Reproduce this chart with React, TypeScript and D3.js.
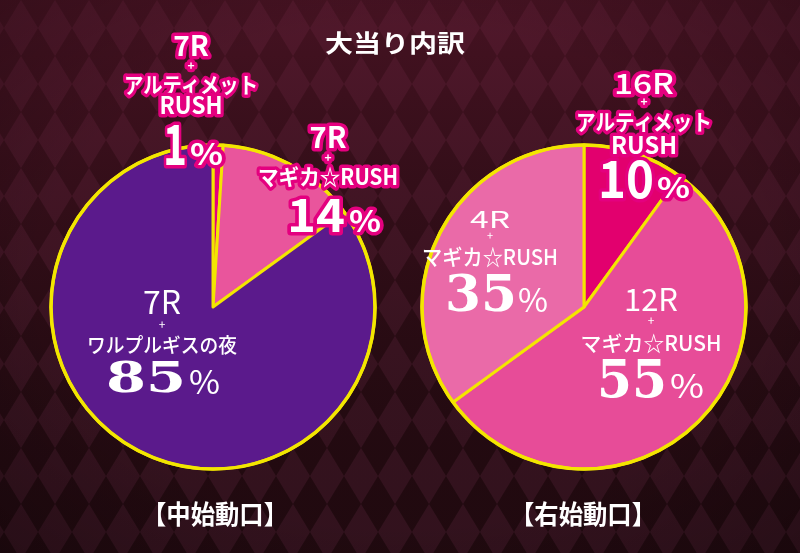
import React from "react";
import * as d3 from "d3";

// ---------- data ----------
const chartTitle = "大当り内訳";
const leftTitle = "【中始動口】";
const rightTitle = "【右始動口】";

const leftRounds = ["7R", "7R", "7R"];
const leftBonus = [["アルティメット", "RUSH"], ["マギカ☆RUSH"], ["ワルプルギスの夜"]];
const leftValues = [1, 14, 85];

const rightRounds = ["16R", "12R", "4R"];
const rightBonus = [["アルティメット", "RUSH"], ["マギカ☆RUSH"], ["マギカ☆RUSH"]];
const rightValues = [10, 55, 35];

// ---------- styles / layout ----------
const W = 800;
const H = 553;
const R = 162;
const leftCenter = { x: 213, y: 307 };
const rightCenter = { x: 584, y: 307 };
const leftColors = ["#e4007f", "#e9559c", "#5b1a8c"];
const rightColors = ["#e2006e", "#e74c98", "#ea6aa8"];
const YELLOW = "#f3e600";
const MAGENTA = "#e4007f";
const SANS = "'Noto Sans CJK JP', 'Noto Sans', sans-serif";
const SERIF = "'DejaVu Serif', 'Liberation Serif', serif";

type LineSpec = { y: number; size: number; len?: number; weight?: number };
type LabelLayout = {
  cx: number;
  outline: boolean;
  serif: boolean;
  round: LineSpec;
  plus: LineSpec;
  bonus: LineSpec[];
  digits: { x: number; y: number; size: number; len: number };
  pct: { x: number; y: number; size: number; len: number };
};

const leftLayout: LabelLayout[] = [
  {
    cx: 191, outline: true, serif: false,
    round: { y: 56, size: 28, weight: 700 },
    plus: { y: 70, size: 12, weight: 700 },
    bonus: [{ y: 93, size: 22, len: 134, weight: 700 }, { y: 114, size: 24, len: 63, weight: 700 }],
    digits: { x: 163, y: 165, size: 56, len: 24 },
    pct: { x: 190, y: 165, size: 30, len: 33 },
  },
  {
    cx: 328, outline: true, serif: false,
    round: { y: 148, size: 29, weight: 700 },
    plus: { y: 162, size: 12, weight: 700 },
    bonus: [{ y: 185, size: 22, len: 140, weight: 700 }],
    digits: { x: 287, y: 232, size: 46, len: 58 },
    pct: { x: 349, y: 232, size: 30, len: 32 },
  },
  {
    cx: 162, outline: false, serif: true,
    round: { y: 314, size: 32, len: 38, weight: 400 },
    plus: { y: 329, size: 12, weight: 400 },
    bonus: [{ y: 353, size: 20, len: 150, weight: 500 }],
    digits: { x: 106, y: 392, size: 42, len: 80 },
    pct: { x: 189, y: 394, size: 32, len: 31 },
  },
];

const rightLayout: LabelLayout[] = [
  {
    cx: 644, outline: true, serif: false,
    round: { y: 94, size: 28, len: 60, weight: 500 },
    plus: { y: 106, size: 12, weight: 700 },
    bonus: [{ y: 130, size: 22, len: 136, weight: 700 }, { y: 154, size: 24, len: 66, weight: 700 }],
    digits: { x: 598, y: 198, size: 52, len: 56 },
    pct: { x: 657, y: 198, size: 28, len: 33 },
  },
  {
    cx: 651, outline: false, serif: true,
    round: { y: 311, size: 31, len: 54, weight: 400 },
    plus: { y: 325, size: 12, weight: 400 },
    bonus: [{ y: 351, size: 21, len: 141, weight: 500 }],
    digits: { x: 597, y: 397, size: 52, len: 70 },
    pct: { x: 670, y: 398, size: 32, len: 34 },
  },
  {
    cx: 490, outline: false, serif: true,
    round: { y: 228, size: 23, len: 40, weight: 400 },
    plus: { y: 240, size: 11, weight: 400 },
    bonus: [{ y: 265, size: 22, len: 136, weight: 500 }],
    digits: { x: 445, y: 311, size: 50, len: 72 },
    pct: { x: 518, y: 312, size: 32, len: 30 },
  },
];

function Label({ layout, round, bonus, value }: { layout: LabelLayout; round: string; bonus: string[]; value: number }) {
  const outlineProps = layout.outline
    ? { stroke: MAGENTA, strokeWidth: 7, strokeLinejoin: "round" as const, paintOrder: "stroke" }
    : {};
  const line = (spec: LineSpec, text: string, key: string) => (
    <text
      key={key}
      x={layout.cx}
      y={spec.y}
      textAnchor="middle"
      fontFamily={SANS}
      fontSize={spec.size}
      fontWeight={spec.weight ?? 700}
      fill="#fff"
      {...(spec.len ? { textLength: spec.len, lengthAdjust: "spacingAndGlyphs" } : {})}
      {...outlineProps}
    >
      {text}
    </text>
  );
  return (
    <g>
      {line(layout.round, round, "r")}
      {line(layout.plus, "+", "p")}
      {bonus.map((b, i) => line(layout.bonus[i], b, "b" + i))}
      <text
        x={layout.digits.x}
        y={layout.digits.y}
        fontFamily={layout.serif ? SERIF : SANS}
        fontSize={layout.digits.size}
        fontWeight={700}
        fill="#fff"
        textLength={layout.digits.len}
        lengthAdjust="spacingAndGlyphs"
        {...outlineProps}
      >
        {String(value)}
      </text>
      <text
        x={layout.pct.x}
        y={layout.pct.y}
        fontFamily={SANS}
        fontSize={layout.pct.size}
        fontWeight={layout.outline ? 700 : 400}
        fill="#fff"
        textLength={layout.pct.len}
        lengthAdjust="spacingAndGlyphs"
        {...outlineProps}
      >
        %
      </text>
    </g>
  );
}

function Pie({ center, values, colors }: { center: { x: number; y: number }; values: number[]; colors: string[] }) {
  const pie = d3.pie<number>().sort(null).value((d) => d)(values);
  const arc = d3.arc<d3.PieArcDatum<number>>().innerRadius(0).outerRadius(R);
  return (
    <g transform={`translate(${center.x},${center.y})`}>
      {pie.map((p, i) => (
        <path key={i} d={arc(p) || ""} fill={colors[i]} stroke={YELLOW} strokeWidth={3} strokeLinejoin="round" />
      ))}
      <circle r={R} fill="none" stroke={YELLOW} strokeWidth={3.5} />
    </g>
  );
}

export default function App() {
  return (
    <svg width={W} height={H} viewBox={`0 0 ${W} ${H}`} style={{ position: "fixed", left: 0, top: 0, display: "block" }}>
      <defs>
        <pattern id="harl" width={34} height={56} patternUnits="userSpaceOnUse" x={4} y={0}>
          <rect width={34} height={56} fill="#220a10" />
          <polygon points="17,0 34,28 17,56 0,28" fill="#35131f" />
        </pattern>
        <linearGradient id="tint" x1="0" y1="0" x2="0" y2="1">
          <stop offset="0" stopColor="#80203f" stopOpacity={0.38} />
          <stop offset="0.5" stopColor="#6a1a34" stopOpacity={0.15} />
          <stop offset="1" stopColor="#000" stopOpacity={0.05} />
        </linearGradient>
        <radialGradient id="vig" cx="0.5" cy="0.5" r="0.75">
          <stop offset="0.6" stopColor="#000" stopOpacity={0} />
          <stop offset="1" stopColor="#000" stopOpacity={0.25} />
        </radialGradient>
      </defs>
      <rect width={W} height={H} fill="url(#harl)" />
      <rect width={W} height={H} fill="url(#tint)" />
      <rect width={W} height={H} fill="url(#vig)" />

      <text x={395} y={52} textAnchor="middle" fontFamily={SANS} fontSize={24} fontWeight={700} fill="#fff" textLength={140} lengthAdjust="spacingAndGlyphs">
        {chartTitle}
      </text>

      <Pie center={leftCenter} values={leftValues} colors={leftColors} />
      <Pie center={rightCenter} values={rightValues} colors={rightColors} />

      {leftValues.map((v, i) => (
        <Label key={"l" + i} layout={leftLayout[i]} round={leftRounds[i]} bonus={leftBonus[i]} value={v} />
      ))}
      {rightValues.map((v, i) => (
        <Label key={"r" + i} layout={rightLayout[i]} round={rightRounds[i]} bonus={rightBonus[i]} value={v} />
      ))}

      <text x={215} y={524} textAnchor="middle" fontFamily={SANS} fontSize={26} fontWeight={700} fill="#fff" textLength={146} lengthAdjust="spacingAndGlyphs">
        {leftTitle}
      </text>
      <text x={583} y={524} textAnchor="middle" fontFamily={SANS} fontSize={26} fontWeight={700} fill="#fff" textLength={146} lengthAdjust="spacingAndGlyphs">
        {rightTitle}
      </text>
    </svg>
  );
}
